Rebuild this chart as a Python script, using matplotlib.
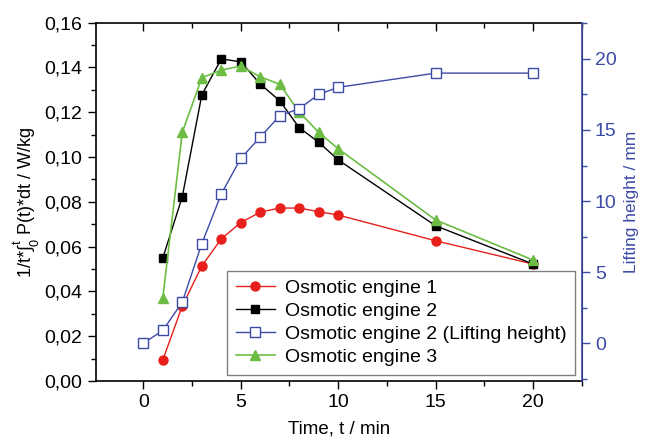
import numpy as np
import matplotlib
matplotlib.use('Agg')
import matplotlib.pyplot as plt
from matplotlib.ticker import MultipleLocator, FuncFormatter

# data
t_main = [1, 2, 3, 4, 5, 6, 7, 8, 9, 10, 15, 20]
engine1 = [0.0094, 0.0335, 0.0513, 0.0635, 0.0707, 0.0754, 0.0772, 0.0772, 0.0756, 0.0741, 0.0626, 0.0522]
engine2 = [0.0549, 0.0823, 0.1277, 0.1438, 0.1425, 0.1326, 0.1251, 0.1131, 0.1066, 0.0987, 0.0693, 0.0522]
engine3 = [0.0372, 0.1110, 0.1354, 0.1388, 0.1406, 0.1358, 0.1325, 0.1201, 0.1110, 0.1037, 0.0719, 0.0540]
t_lift = [0, 1, 2, 3, 4, 5, 6, 7, 8, 9, 10, 15, 20]
lift2 = [0.0, 0.9, 2.9, 7.0, 10.5, 13.0, 14.5, 16.0, 16.5, 17.5, 18.0, 19.0, 19.0]

labels = ['Osmotic engine 1', 'Osmotic engine 2',
          'Osmotic engine 2 (Lifting height)', 'Osmotic engine 3']

plt.rcParams['font.family'] = ['Liberation Sans', 'DejaVu Sans']
plt.rcParams['mathtext.fontset'] = 'custom'
plt.rcParams['mathtext.rm'] = 'Liberation Sans'
plt.rcParams['mathtext.it'] = 'Liberation Sans'

RED = '#e8201c'
BLUE = '#3c4ba6'
GREEN = '#6dbd45'

fig = plt.figure(figsize=(6.46, 4.44), dpi=100)
ax = fig.add_axes([0.148, 0.142, 0.7525, 0.807])
ax2 = ax.twinx()

l1, = ax.plot(t_main, engine1, '-o', color=RED, lw=1, ms=6.5, label=labels[0])
l2, = ax.plot(t_main, engine2, '-s', color='black', lw=1, ms=6, label=labels[1])
l4, = ax.plot(t_main, engine3, '-^', color=GREEN, lw=1.2, ms=7.5, label=labels[3])
l3, = ax2.plot(t_lift, lift2, '-s', color=BLUE, lw=1, ms=6.5, mfc='white', mec=BLUE, label=labels[2])

ax.set_xlim(-2.45, 22.5)
ax.set_ylim(0, 0.16)
ax2.set_ylim(-2.65, 22.55)

ax.xaxis.set_major_locator(MultipleLocator(5))
ax.xaxis.set_minor_locator(MultipleLocator(2.5))
ax.yaxis.set_major_locator(MultipleLocator(0.02))
ax.yaxis.set_minor_locator(MultipleLocator(0.01))
ax.yaxis.set_major_formatter(FuncFormatter(lambda v, p: ('%.2f' % v).replace('.', ',')))
ax2.yaxis.set_major_locator(MultipleLocator(5))
ax2.yaxis.set_minor_locator(MultipleLocator(2.5))

ax.tick_params(axis='both', which='major', direction='out', length=6, width=1, labelsize=14)
ax.tick_params(axis='both', which='minor', direction='out', length=3.5, width=1)
ax.tick_params(axis='x', which='both', top=True, labeltop=False)
ax2.tick_params(axis='y', which='major', direction='out', length=6, width=1,
                colors=BLUE, labelsize=14)
ax2.tick_params(axis='y', which='minor', direction='out', length=3.5, width=1, colors=BLUE)

# top ticks point inward
for tk in ax.xaxis.get_major_ticks() + ax.xaxis.get_minor_ticks():
    tk.tick2line.set_marker(matplotlib.lines.TICKDOWN)

for s in ['left', 'bottom', 'top']:
    ax.spines[s].set_linewidth(1.2)
ax2.spines['right'].set_color(BLUE)
ax2.spines['right'].set_linewidth(1.2)
ax2.spines['left'].set_visible(False)
ax2.spines['top'].set_visible(False)
ax2.spines['bottom'].set_visible(False)

ax.set_xlabel('Time, t / min', fontsize=13.5, labelpad=7)
ax.set_ylabel(r'1/t*$\int_0^t$ P(t)*dt / W/kg', fontsize=13, labelpad=2)
ax2.set_ylabel('Lifting height / mm', fontsize=12.5, color=BLUE, labelpad=5)

leg = ax2.legend([l1, l2, l3, l4], labels, loc='lower right',
                 bbox_to_anchor=(0.986, 0.017), borderaxespad=0, fontsize=14,
                 fancybox=False, framealpha=1, edgecolor='#808080',
                 handlelength=2.0, handletextpad=0.5, labelspacing=0.28, borderpad=0.45)
leg.get_frame().set_linewidth(1)

fig.savefig('out.png', dpi=100)
